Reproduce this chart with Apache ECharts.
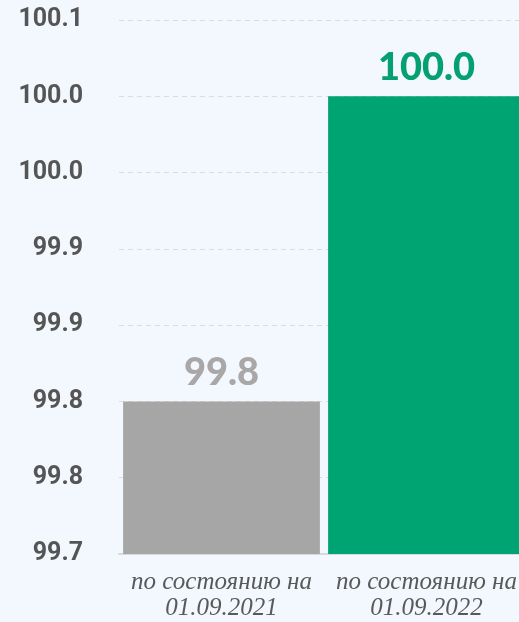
<!DOCTYPE html>
<html>
<head>
<meta charset="utf-8">
<script src="https://cdn.jsdelivr.net/npm/echarts@6/dist/echarts.min.js"></script>
<style>
  html, body { margin: 0; padding: 0; background: #f2f8fd; }
  #chart { width: 519px; height: 622px; }
</style>
</head>
<body>
<div id="chart"></div>
<script>
// данные
const categories = ["по состоянию на\n01.09.2021", "по состоянию на\n01.09.2022"];
const values = [99.8, 100.0];
const barColors = ["#a6a6a6", "#00a372"];
const labelColors = ["#a9a7a7", "#04a070"];
const yMin = 99.7;
const yMax = 100.05;
const yStep = 0.05;
const yTickLabels = ["99.7", "99.8", "99.8", "99.9", "99.9", "100.0", "100.0", "100.1"];

const chart = echarts.init(document.getElementById("chart"));
const option = {
  backgroundColor: "#f2f8fd",
  animation: false,
  // сетка чуть шире окна справа, как в исходнике
  grid: { left: 119, width: 410, top: 20, bottom: 68, outerBoundsMode: "none" },
  xAxis: {
    type: "category",
    data: categories,
    axisTick: { show: false },
    axisLine: { lineStyle: { color: "#d9d9d9", width: 2 } },
    axisLabel: {
      color: "#595959",
      fontSize: 25,
      fontStyle: "italic",
      fontFamily: "Liberation Serif",
      lineHeight: 26,
      margin: 15,
      interval: 0,
    },
  },
  yAxis: {
    type: "value",
    min: yMin,
    max: yMax,
    interval: yStep,
    axisLine: { show: false },
    axisTick: { show: false },
    axisLabel: {
      color: "#555555",
      fontSize: 25,
      fontWeight: "bold",
      fontFamily: "Roboto",
      margin: 36,
      formatter: function (v) {
        return yTickLabels[Math.round((v - yMin) / yStep)] || "";
      },
    },
    splitLine: {
      lineStyle: { color: "#dcdcdc", type: [5, 4], width: 1 },
    },
  },
  series: [
    {
      type: "bar",
      barWidth: "96%",
      data: values.map((v, i) => ({
        value: v,
        itemStyle: { color: barColors[i] },
        label: { color: labelColors[i] },
      })),
      label: {
        show: true,
        position: "top",
        distance: 10,
        fontSize: 38,
        fontWeight: 900,
        fontFamily: "Lato",
        formatter: (p) => p.value.toFixed(1),
      },
    },
  ],
};
chart.setOption(option);
</script>
</body>
</html>
